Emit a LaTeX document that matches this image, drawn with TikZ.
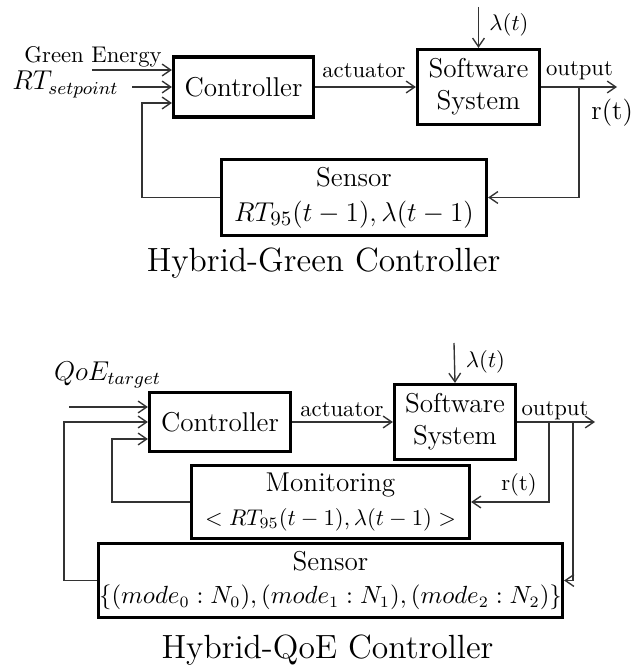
\documentclass[tikz,border=0pt]{standalone}
\usetikzlibrary{arrows.meta}
\newcommand\ttlfont{\fontsize{14.8}{18}\selectfont}
\newcommand\modefont{\fontsize{10.5}{13}\selectfont}
\newcommand\rtfont{\fontsize{12.6}{15}\selectfont}
\tikzset{
  blk/.style={draw, line width=1.4pt, inner sep=0pt, align=center, font=\large},
  dims/.style 2 args={minimum width={#1*0.441pt}, minimum height={#2*0.441pt}},
  wire/.style={line width=0.6pt, draw=black!80},
  arr/.style={wire, -{Straight Barb[length=3.8pt,width=5.2pt]}},
  lbl/.style={inner sep=0pt, font=\normalsize},
  ttl/.style={inner sep=0pt, anchor=base, font=\ttlfont}}
\begin{document}
\begin{tikzpicture}[x=0.441pt,y=-0.441pt]
\useasboundingbox (0,0) rectangle (630,668);

% ---------------- Hybrid-Green Controller ----------------
\node[blk, dims={140}{60}] (ctrl) at (243.5,87) {Controller};
\node[blk, dims={122}{75}] (sw) at (478.5,87) {Software\\System};
\node[blk, dims={265}{76}] (sen) at (354,197.5) {Sensor\\[1.5pt]{\rtfont$RT_{95}(t-1),\lambda(t-1)$}};
\node[ttl] (t1) at (323.5,272) {Hybrid-Green Controller};

\coordinate (geS) at (92,70);
\coordinate (rtS) at (132,87);
\coordinate (fbT) at (142,103);
\coordinate (out1) at (617,87);
\coordinate (br1) at (579,87);
\coordinate (lam1) at (478.5,7);

\draw[arr] (geS) -- (geS -| ctrl.west);
\draw[arr] (rtS) -- (ctrl.west);
\draw[arr] (sen.west) -| (fbT) -- (fbT -| ctrl.west);
\draw[arr] (ctrl.east) -- (sw.west);
\draw[arr] (sw.east) -- (out1);
\draw[arr] (br1) |- (sen.east);
\draw[arr] (lam1) -- (sw.north);

\node[lbl, anchor=base] (ge) at (93,63) {Green Energy};
\node[lbl, anchor=base, font=\large] (rt) at (65.5,90) {$RT_{setpoint}$};
\node[lbl, anchor=base] (act1) at (364,78) {actuator};
\node[lbl, anchor=base] (o1) at (579.5,76) {output};
\node[lbl, anchor=west, font=\large] (r1) at (591,113) {r(t)};
\node[lbl] (l1) at (509,25) {$\lambda(t)$};

% ---------------- Hybrid-QoE Controller ----------------
\node[blk, dims={141}{59}] (ctrl2) at (220,422) {Controller};
\node[blk, dims={121}{75}] (sw2) at (455,422) {Software\\System};
\node[blk, dims={278}{73}] (mon) at (330.5,502) {Monitoring\\[1pt]{\normalsize$<RT_{95}(t-1),\lambda(t-1)>$}};
\node[blk, dims={464}{74}] (sen2) at (330.5,580.5) {Sensor\\[0.5pt]{\modefont$\{(mode_0:N_0),(mode_1:N_1),(mode_2:N_2)\}$}};
\node[ttl] (t2) at (327.5,658) {Hybrid-QoE Controller};

\coordinate (qS) at (69,407);
\coordinate (ol) at (64,422);
\coordinate (il) at (112,439);
\coordinate (out2) at (595,422);
\coordinate (b2a) at (549,422);
\coordinate (b2b) at (573,422);
\coordinate (lam2) at (454,343);

\draw[arr] (qS) -- (qS -| ctrl2.west);
\draw[arr] (sen2.west) -| (ol) -- (ctrl2.west);
\draw[arr] (mon.west) -| (il) -- (il -| ctrl2.west);
\draw[arr] (ctrl2.east) -- (sw2.west);
\draw[arr] (sw2.east) -- (out2);
\draw[arr] (b2a) |- (mon.east);
\draw[arr] (b2b) |- (sen2.east);
\draw[arr] (lam2) -- (sw2.north);

\node[lbl, anchor=base, font=\large] (qoe) at (107.5,380) {$QoE_{target}$};
\node[lbl, anchor=base] (act2) at (342,416) {actuator};
\node[lbl, anchor=base] (o2) at (555,415) {output};
\node[lbl] (r2) at (519,485) {r(t)};
\node[lbl] (l2) at (485.5,362) {$\lambda(t)$};
\end{tikzpicture}
\end{document}
